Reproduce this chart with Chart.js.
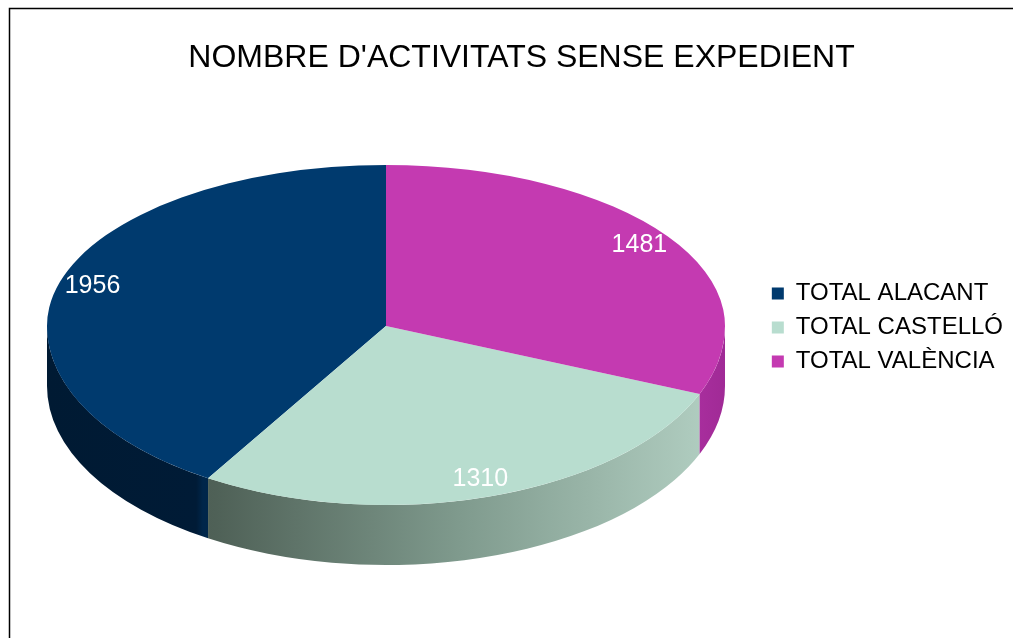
<!DOCTYPE html>
<html><head><meta charset="utf-8">
<script src="https://cdn.jsdelivr.net/npm/chart.js@4/dist/chart.umd.min.js"></script>
<style>html,body{margin:0;padding:0;background:#fff;overflow:hidden}canvas{display:block}</style>
</head><body><canvas id="c" width="1013" height="638"></canvas>
<script>
const chartTitle = "NOMBRE D'ACTIVITATS SENSE EXPEDIENT";
const categories = ["TOTAL ALACANT", "TOTAL CASTELLÓ", "TOTAL VALÈNCIA"];
const values = [1956, 1310, 1481];
const topColors = ["#003a6e", "#b8ddcf", "#c43ab1"];
const sideStops = [
  [[0, "#001a33"], [0.22, "#001b36"], [0.23, "#00264a"], [1, "#001b36"]],
  [[0, "#3f4d45"], [0.25, "#4f6157"], [0.6, "#7e998c"], [1, "#b4d1c4"]],
  [[0, "#9a2690"], [0.9, "#b434a8"], [1, "#a02a96"]]
];
const FONT = '"Liberation Sans", Arial, sans-serif';
// perspective-like view: the far half of the disc is flatter than the near half
const view = { cx: 386, cy: 326, rx: 339, ryBack: 161, ryFront: 179, depth: 60, labelFrac: 0.9 };

function toDisc(ctx, meta, ry) {
  const arc0 = meta.data[0];
  const R = arc0.outerRadius;
  ctx.translate(view.cx, view.cy);
  ctx.scale(-view.rx / R, ry / R);
  ctx.translate(-arc0.x, -arc0.y);
}

const pie3d = {
  id: 'pie3d',
  beforeDraw(chart) {
    const ctx = chart.ctx;
    ctx.save();
    ctx.strokeStyle = '#000';
    ctx.lineWidth = 1.5;
    ctx.beginPath();
    ctx.moveTo(9.5, 700);
    ctx.lineTo(9.5, 8.5);
    ctx.lineTo(1100, 8.5);
    ctx.stroke();
    ctx.restore();
  },
  beforeDatasetsDraw(chart) {
    const ctx = chart.ctx;
    const meta = chart.getDatasetMeta(0);
    const { cx, cy, rx, ryFront, depth } = view;
    // side walls (front half only)
    ctx.save();
    meta.data.forEach((arc, i) => {
      const p = arc.getProps(['startAngle', 'endAngle'], true);
      const a = Math.PI - p.endAngle, b = Math.PI - p.startAngle;
      for (let k = -2; k <= 2; k++) {
        const lo = Math.max(a + 2 * Math.PI * k, 0);
        const hi = Math.min(b + 2 * Math.PI * k, Math.PI);
        if (hi > lo) {
          ctx.beginPath();
          ctx.ellipse(cx, cy, rx, ryFront, 0, lo, hi, false);
          ctx.ellipse(cx, cy + depth, rx, ryFront, 0, hi, lo, true);
          ctx.closePath();
          const g = ctx.createLinearGradient(cx - rx, 0, cx + rx, 0);
          sideStops[i].forEach(s => g.addColorStop(s[0], s[1]));
          ctx.fillStyle = g;
          ctx.fill();
        }
      }
    });
    ctx.restore();
    // far half of the top face
    ctx.save();
    ctx.beginPath();
    ctx.rect(0, 0, chart.width, cy);
    ctx.clip();
    toDisc(ctx, meta, view.ryBack);
    meta.data.forEach(arc => arc.draw(ctx));
    ctx.restore();
    // near half of the top face: drawn by the chart itself
    ctx.save();
    ctx.beginPath();
    ctx.rect(0, cy, chart.width, chart.height - cy);
    ctx.clip();
    toDisc(ctx, meta, ryFront);
  },
  afterDatasetsDraw(chart) {
    const ctx = chart.ctx;
    ctx.restore();
    const meta = chart.getDatasetMeta(0);
    const { cx, cy, rx, ryBack, ryFront, labelFrac } = view;
    ctx.save();
    ctx.font = '25px ' + FONT;
    ctx.fillStyle = '#ffffff';
    ctx.textAlign = 'center';
    ctx.textBaseline = 'middle';
    meta.data.forEach((arc, i) => {
      const p = arc.getProps(['startAngle', 'endAngle'], true);
      const psi = Math.PI - (p.startAngle + p.endAngle) / 2;
      const s = Math.sin(psi);
      const x = cx + labelFrac * rx * Math.cos(psi);
      const y = cy + labelFrac * (s > 0 ? ryFront : ryBack) * s;
      ctx.fillText(String(values[i]), x, y);
    });
    ctx.restore();
  }
};

new Chart(document.getElementById('c'), {
  type: 'pie',
  data: {
    labels: categories,
    datasets: [{ data: values, backgroundColor: topColors, borderWidth: 0, clip: false }]
  },
  options: {
    responsive: false,
    animation: false,
    devicePixelRatio: 1,
    events: [],
    layout: { padding: { left: 30, right: 0, top: 17, bottom: 0 } },
    plugins: {
      title: {
        display: true, text: chartTitle, color: '#000',
        font: { family: FONT, size: 32, weight: 'normal' },
        padding: { top: 22, bottom: 30 }
      },
      legend: {
        position: 'right', align: 'center',
        labels: { boxWidth: 12, boxHeight: 12, color: '#000', font: { family: FONT, size: 24 }, padding: 10 }
      },
      tooltip: { enabled: false }
    }
  },
  plugins: [pie3d]
});
</script>
</body></html>
